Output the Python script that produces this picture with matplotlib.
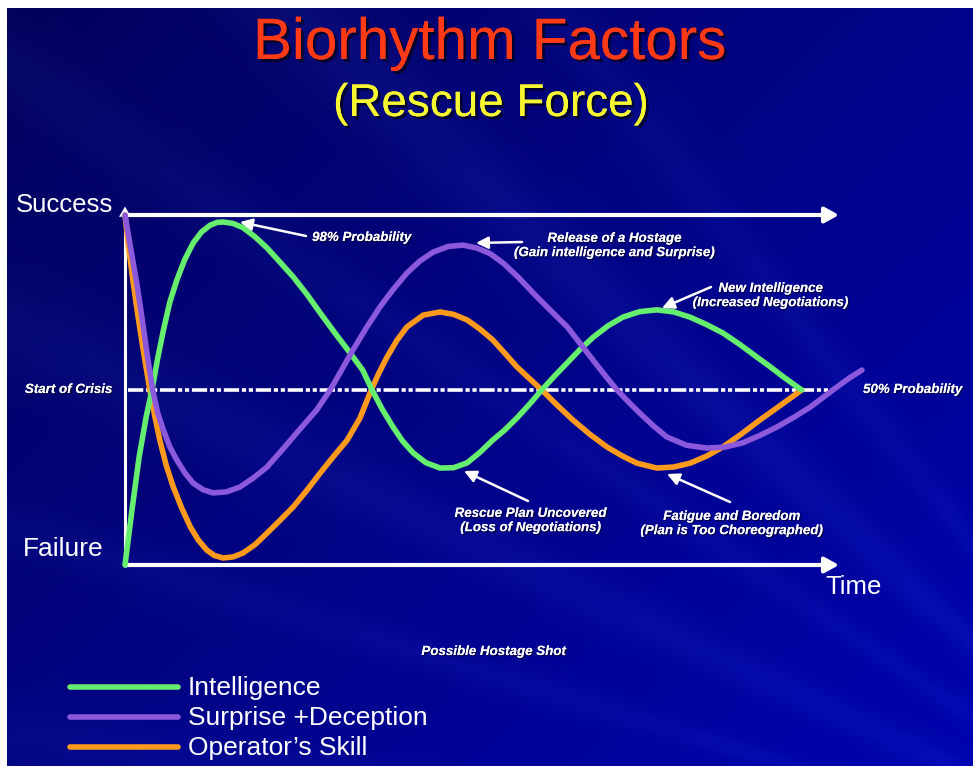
import numpy as np
import matplotlib
matplotlib.use("Agg")
import matplotlib.pyplot as plt
import matplotlib.patheffects as pe

plt.rcParams['font.family'] = ['Liberation Sans', 'DejaVu Sans']
plt.rcParams['lines.scale_dashes'] = False

# ---------------- data ----------------
title = "Biorhythm Factors"
subtitle = "(Rescue Force)"
series_names = ["Intelligence", "Surprise +Deception", "Operator\u2019s Skill"]
series_colors = ["#66ee6e", "#8c58dc", "#ff9a1c"]

# time (0..100 = axis length), probability of success (0 = Failure, 100 = Success)
intel_t = [0, 1.0, 2.0, 3.0, 3.8, 4.6, 5.4, 6.3, 7.3, 8.4, 9.6, 10.8, 12.0, 13.0, 13.8,
           15.2, 16.6, 18.3, 20.0, 21.8, 23.7, 25.6, 27.5, 29.6, 31.7, 33.5, 34.8, 36.2,
           37.7, 39.1, 40.6, 42.4, 44.4, 46.3, 48.2, 50.0, 51.8, 53.5, 55.2, 57.0, 58.7,
           60.5, 62.3, 64.1, 65.9, 68.0, 70.1, 72.5, 74.9, 77.3, 79.6, 81.9, 84.2, 86.6,
           89.0, 90.9, 92.7, 95.3]
intel_p = [0, 16, 31, 42.5, 50, 59, 67, 75, 81.4, 87.2, 92, 95.2, 97.1, 97.9, 98,
           97.6, 96.4, 93.8, 90.6, 86.6, 82.3, 77.4, 72, 66.2, 60.6, 55.6, 50, 44.6,
           39.6, 35.4, 32, 29.2, 27.7, 27.8, 29.2, 32.2, 35.7, 38.6, 42, 46, 50,
           54, 57.8, 61.6, 65, 68.3, 70.8, 72.4, 72.9, 72.3, 70.8, 68.7, 66.3, 63.0,
           59.4, 56.6, 53.8, 50]

surp_t = [0, 0.8, 1.7, 2.4, 3.1, 3.9, 4.6, 5.4, 6.3, 7.3, 8.4, 9.6, 11.0, 12.4, 14.3,
          16.2, 18.1, 20.0, 21.8, 23.7, 25.4, 27.0, 28.9, 30.5, 32.1, 34.0, 35.9, 37.8,
          39.7, 41.5, 43.4, 45.5, 47.6, 49.5, 51.4, 53.3, 55.4, 57.5, 59.9, 62.3, 64.1,
          65.9, 67.6, 69.3, 70.9, 72.5, 74.4, 76.3, 79.1, 82.0, 84.5, 87.0, 89.4, 91.8,
          94.2, 96.5, 98.4, 100.3, 102.0, 103.8]
surp_p = [100, 90.5, 80, 70.5, 60.5, 50, 43.5, 38.6, 33.8, 30, 26.4, 23.4, 21.5, 20.6,
          20.9, 22.3, 24.9, 28, 32.1, 36.6, 40.6, 44.3, 50, 55.7, 61.4, 67.8, 73.7,
          78.8, 83.4, 86.8, 89.4, 91, 91.4, 90.6, 89.0, 86.2, 82.2, 77.7, 72.8, 68,
          63.3, 58.6, 54.2, 50, 46.6, 43.4, 39.8, 36.6, 34.2, 33.4, 33.7, 34.9, 37,
          39.4, 42.2, 45.1, 48, 50.9, 53.4, 55.7]

oper_t = [0, 0.5, 1.1, 1.8, 2.5, 3.5, 4.2, 4.9, 5.8, 6.8, 8.0, 9.2, 10.3, 11.5, 12.6,
          13.8, 15.2, 16.6, 18.3, 20.0, 21.8, 23.7, 25.6, 27.5, 29.4, 31.3, 33.1, 34.5,
          35.7, 36.9, 38.3, 39.7, 42.0, 44.4, 46.3, 48.2, 50.0, 51.8, 53.5, 55.2, 57.0,
          58.7, 60.9, 63.1, 65.5, 67.9, 70.0, 72.1, 74.9, 77.3, 79.6, 81.9, 84.2, 86.8,
          89.4, 92.3, 95.3]
oper_p = [100, 91, 81.4, 71.5, 62.3, 50, 42.5, 35.7, 28.5, 22.3, 16.2, 10.9, 7.2, 4.3,
          2.7, 2, 2.3, 3.4, 5.8, 9.1, 12.7, 16.6, 21.3, 26.3, 31.1, 35.7, 42, 49.1,
          54.6, 59.4, 64.2, 68, 71.4, 72.3, 71.6, 70, 67.4, 64.3, 60.5, 56.6, 53.2,
          50, 45.6, 41.4, 37.3, 33.7, 31.2, 29.1, 27.7, 28.0, 29.1, 31.1, 33.7, 37.4,
          41.4, 45.6, 50]

# ---------------- layout ----------------
W, H = 973, 766
DPI = 100
fig = plt.figure(figsize=(W / DPI, H / DPI), dpi=DPI)
fig.patch.set_facecolor("white")

# background (slide gradient with soft light rays)
BL, BT = 7, 8
bw, bh = W - BL, H - BT
yy, xx = np.mgrid[0:bh, 0:bw].astype(float)
u = np.clip(xx / bw * 0.55 + yy / bh * 0.45, 0, 1)
c0 = np.array([2, 2, 92]) / 255.0
c1 = np.array([0, 4, 175]) / 255.0
bg = c0 + (c1 - c0) * u[..., None]
fx, fy = 1250.0, 900.0
ang = np.degrees(np.arctan2(yy - fy, xx - fx))
for a0, wd, amp in [(-128, 1.4, 0.05), (-137, 2.0, 0.07), (-146, 1.3, 0.05),
                    (-155, 1.8, 0.06), (-163, 1.1, 0.05), (-172, 1.6, 0.045)]:
    g = amp * np.exp(-((ang - a0) / wd) ** 2)
    bg = bg + g[..., None] * np.array([0.35, 0.5, 0.6])
bg = np.clip(bg, 0, 1)
bgax = fig.add_axes([BL / W, 0, bw / W, bh / H])
bgax.imshow(bg, aspect="auto", interpolation="bilinear")
bgax.axis("off")

# main axes covering whole figure; data units: t (time) and probability
X0, XS = 125.0, 7.1     # px of t=0, px per time unit
Y0, YS = 565.0, 3.5     # px of p=0, px per probability unit
ax = fig.add_axes([0, 0, 1, 1], zorder=2)
ax.set_xlim((0 - X0) / XS, (W - X0) / XS)
ax.set_ylim((Y0 - H) / YS, (Y0 - 0) / YS)
ax.patch.set_alpha(0)
ax.axis("off")


def tx(px):
    return (px - X0) / XS


def py_(py):
    return (Y0 - py) / YS


def ft(px, py):
    return px / W, 1 - py / H


white = "white"
# axes frame: vertical line, top and bottom arrows
ax.plot([0, 0], [-0.5, 100.5], color=white, lw=2.2, solid_capstyle="butt", zorder=3)
ax.annotate("", xy=(0, 103.2), xytext=(0, 99.5),
            arrowprops=dict(arrowstyle="-|>,head_length=0.6,head_width=0.35",
                            color=white, lw=0.1, mutation_scale=12))
for yv in (100, 0):
    ax.annotate("", xy=(tx(839), yv), xytext=(0.2, yv),
                arrowprops=dict(arrowstyle="-|>,head_length=0.6,head_width=0.33",
                                color=white, lw=3.0, mutation_scale=14,
                                shrinkA=0, shrinkB=0), zorder=3)
# start-of-crisis line (50%)
ax.plot([0.4, tx(832)], [50, 50], color=white, lw=2.6,
        dashes=(11, 2, 3, 2, 3, 2), zorder=3)

# curves
curves = [(oper_t, oper_p, series_colors[2]),
          (intel_t, intel_p, series_colors[0]),
          (surp_t, surp_p, series_colors[1])]
for t, p, c in curves:
    ax.plot(t, p, color=c, lw=4.0, solid_capstyle="round", solid_joinstyle="round",
            zorder=4)

# legend
leg_y = [687, 717, 747]
for name, c, ly in zip(series_names, series_colors, leg_y):
    ax.plot([tx(70), tx(178)], [py_(ly), py_(ly)], color=c, lw=4.0,
            solid_capstyle="round", zorder=4)
    fig.text(*ft(188, ly + 1), name, color=white, fontsize=19, ha="left", va="center",
             zorder=5)

# titles
shadow = [pe.withSimplePatchShadow(offset=(2, -2), shadow_rgbFace="black", alpha=0.6),
          pe.Normal()]
fig.text(*ft(490, 44), title, color="#ff3a14", fontsize=42, ha="center", va="center",
         path_effects=shadow, zorder=5)
fig.text(*ft(491, 104), subtitle, color="#f8f830", fontsize=33, ha="center",
         va="center", path_effects=shadow, zorder=5)

# axis labels
fig.text(*ft(64, 205), "Success", color=white, fontsize=18.5, ha="center", va="center")
fig.text(*ft(63, 549), "Failure", color=white, fontsize=19, ha="center", va="center")
fig.text(*ft(854, 587), "Time", color=white, fontsize=18.5, ha="center", va="center")

small = dict(color=white, fontsize=9.6, fontweight="bold", fontstyle="italic",
             ha="center", va="center", linespacing=1.25)
small_shadow = [pe.withSimplePatchShadow(offset=(1, -1), shadow_rgbFace="black",
                                         alpha=0.5), pe.Normal()]
fig.text(*ft(69, 390), "Start of Crisis", path_effects=small_shadow, **small)
fig.text(*ft(913, 390), "50% Probability", path_effects=small_shadow, **small)
fig.text(*ft(494, 652), "Possible Hostage Shot", path_effects=small_shadow, **small)

# annotations: (text, text center px, arrow tail px, arrow head px)
notes = [
    ("98% Probability", (362, 238), (306, 236), (240, 222)),
    ("Release of a Hostage\n(Gain intelligence and Surprise)", (615, 246),
     (522, 242), (476, 243)),
    ("New Intelligence\n(Increased Negotiations)", (771, 296), (711, 287), (662, 308)),
    ("Rescue Plan Uncovered\n(Loss of Negotiations)", (531, 521), (528, 501),
     (464, 471)),
    ("Fatigue and Boredom\n(Plan is Too Choreographed)", (732, 524), (730, 502),
     (667, 474)),
]
for txt, (cx, cy), (ax0, ay0), (ax1, ay1) in notes:
    fig.text(*ft(cx, cy), txt, path_effects=small_shadow, **small)
    ax.annotate("", xy=(tx(ax1), py_(ay1)), xytext=(tx(ax0), py_(ay0)),
                arrowprops=dict(arrowstyle="-|>,head_length=0.6,head_width=0.3",
                                color=white, lw=1.8, mutation_scale=12,
                                shrinkA=0, shrinkB=0), zorder=5)

fig.savefig("out.png", dpi=DPI, facecolor=fig.get_facecolor())
